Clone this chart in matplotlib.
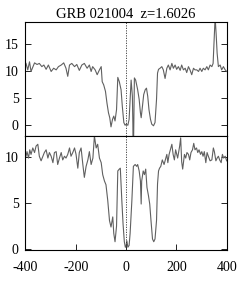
import matplotlib
matplotlib.use("Agg")
import matplotlib.pyplot as plt

plt.rcParams['font.family'] = ['Liberation Serif', 'DejaVu Serif']
plt.rcParams['axes.unicode_minus'] = False

# upper spectrum: velocity (km/s) and flux
v_top = [-398, -391, -384, -378, -364, -354, -345, -335, -327, -318, -309, -298,
         -288, -278, -269, -258, -248, -239, -232, -225, -216, -205, -196, -186,
         -176, -166, -155, -146, -139, -133, -123, -115, -106, -99, -95, -89,
         -82, -76, -70, -65, -60, -54, -49, -44, -38, -33, -27, -20, -15, -9,
         -4, 0, 7, 12, 20, 25, 27, 28, 29, 33, 38, 46, 52, 57, 60, 65, 70, 76,
         81, 86, 91, 97, 102, 109, 115, 121, 125, 129, 135, 142, 148, 155, 162,
         168, 175, 182, 188, 195, 201, 208, 215, 221, 228, 235, 241, 248, 254,
         261, 268, 274, 281, 288, 294, 301, 307, 314, 321, 327, 334, 341, 346,
         350, 354, 358, 362, 367, 374, 380, 387, 394, 400]
f_top = [11.4, 10.2, 11.7, 9.9, 11.5, 11.2, 11.4, 10.8, 11.1, 10.3, 11.1, 9.9,
         10.5, 10.2, 10.8, 11.1, 11.5, 10.5, 9.0, 11.1, 11.4, 10.8, 11.2, 10.1,
         11.1, 11.4, 10.5, 11.1, 9.9, 10.8, 10.2, 9.3, 10.2, 10.8, 8.0, 7.4,
         6.2, 4.0, 2.2, 1.3, -0.4, 1.0, 1.6, 0.7, 2.8, 8.8, 8.0, 6.5, 3.4, 0.4,
         -0.1, 0.1, -0.1, 1.0, 8.3, 5.3, 0.0, -6.0, -6.0, 8.7, 8.3, 6.5, 4.7,
         2.2, 1.3, 3.4, 5.6, 6.5, 6.8, 5.3, 2.8, 1.0, 0.1, -0.2, 0.4, 4.7, 9.6,
         10.3, 10.5, 10.8, 10.2, 8.6, 10.5, 11.1, 10.2, 11.4, 10.5, 11.1, 10.3,
         10.8, 10.1, 11.1, 10.2, 10.5, 9.7, 10.8, 10.2, 9.3, 10.5, 10.2, 10.2,
         9.9, 10.5, 9.9, 10.5, 10.2, 10.8, 10.2, 11.1, 10.8, 11.4, 15.7, 20.0,
         16.9, 13.3, 10.8, 11.1, 10.2, 10.8, 10.2, 9.9]

# lower spectrum
v_bot = [-398, -394, -388, -383, -378, -371, -364, -358, -351, -345, -338, -331,
         -325, -318, -311, -305, -298, -291, -285, -278, -272, -265, -258, -252,
         -245, -239, -232, -225, -219, -212, -205, -199, -192, -186, -179, -172,
         -166, -159, -152, -146, -139, -132, -126, -119, -113, -106, -99, -93,
         -86, -80, -73, -66, -60, -53, -49, -44, -38, -33, -27, -23, -17, -12,
         -7, -3, 0, 3, 7, 12, 16, 23, 29, 36, 42, 46, 52, 57, 60, 62, 68, 73,
         78, 83, 89, 94, 99, 105, 110, 115, 121, 125, 129, 133, 138, 144, 151,
         155, 162, 166, 171, 176, 182, 187, 192, 197, 205, 213, 217, 221, 225,
         232, 237, 242, 248, 253, 258, 264, 269, 274, 280, 285, 290, 296, 301,
         306, 311, 317, 322, 327, 334, 341, 347, 351, 357, 362, 367, 372, 378,
         383, 388, 394, 400]
f_bot = [10.1, 10.6, 9.9, 10.8, 10.3, 11.0, 10.5, 11.2, 11.4, 10.1, 9.6, 10.1,
         10.5, 10.8, 9.9, 10.5, 10.1, 9.4, 10.5, 10.6, 9.2, 9.9, 10.5, 9.7,
         10.1, 9.9, 10.3, 11.0, 10.1, 10.5, 11.0, 10.3, 8.8, 10.5, 11.0, 9.2,
         7.8, 9.0, 9.7, 10.6, 9.2, 9.9, 12.3, 11.0, 11.4, 9.9, 9.4, 8.1,
         7.4, 7.0, 5.3, 3.1, 2.4, 3.5, 1.7, 0.8, 2.5, 8.5, 8.7, 8.8, 5.3, 2.7,
         0.8, 0.2, 0.3, 0.9, 0.2, 0.4, 1.7, 5.3, 9.0, 9.2, 9.0, 9.2, 8.5, 7.4,
         4.9, 7.4, 8.5, 8.1, 8.7, 6.7, 5.8, 4.9, 3.1, 1.1, 0.8, 1.1, 3.1, 7.1,
         8.5, 8.8, 9.0, 9.7, 9.2, 9.6, 10.3, 9.4, 10.3, 10.8, 11.4, 10.3, 9.7,
         10.8, 9.9, 11.2, 12.1, 9.5, 8.7, 10.3, 9.9, 10.5, 10.3, 9.7, 10.5,
         10.8, 11.5, 10.8, 11.0, 10.5, 10.8, 10.3, 10.6, 10.1, 10.6, 9.4, 10.5,
         10.1, 9.6, 9.7, 11.0, 10.6, 9.6, 9.9, 10.1, 9.7, 9.4, 10.3, 9.9, 10.1,
         9.6]

fig = plt.figure(figsize=(2.49, 2.85), dpi=100)
ax1 = fig.add_axes([0.1024, 0.5228, 0.808, 0.4])
ax2 = fig.add_axes([0.1024, 0.1228, 0.808, 0.4])

ax1.plot(v_top, f_top, color='#606060', lw=0.8)
ax2.plot(v_bot, f_bot, color='#606060', lw=0.8)

for ax in (ax1, ax2):
    ax.axvline(0, color='#333333', lw=0.6, ls=(0, (1.5, 1.5)))
    ax.set_xlim(-400, 400)
    ax.tick_params(direction='in', length=4.5, width=0.6, labelsize=10,
                   left=True, right=True, top=False, pad=5)
    for s in ax.spines.values():
        s.set_linewidth(0.8)

ax1.set_ylim(-2.1, 19.1)
ax1.set_yticks([0, 5, 10, 15])
ax1.tick_params(bottom=False, labelbottom=False)
ax1.set_title('GRB 021004  z=1.6026', fontsize=10.5, pad=3)

ax2.set_ylim(-0.1, 12.3)
ax2.set_yticks([0, 5, 10])
ax2.set_xticks([-400, -200, 0, 200, 400])
ax2.tick_params(axis='x', pad=8)

fig.savefig('out.png', dpi=100)
